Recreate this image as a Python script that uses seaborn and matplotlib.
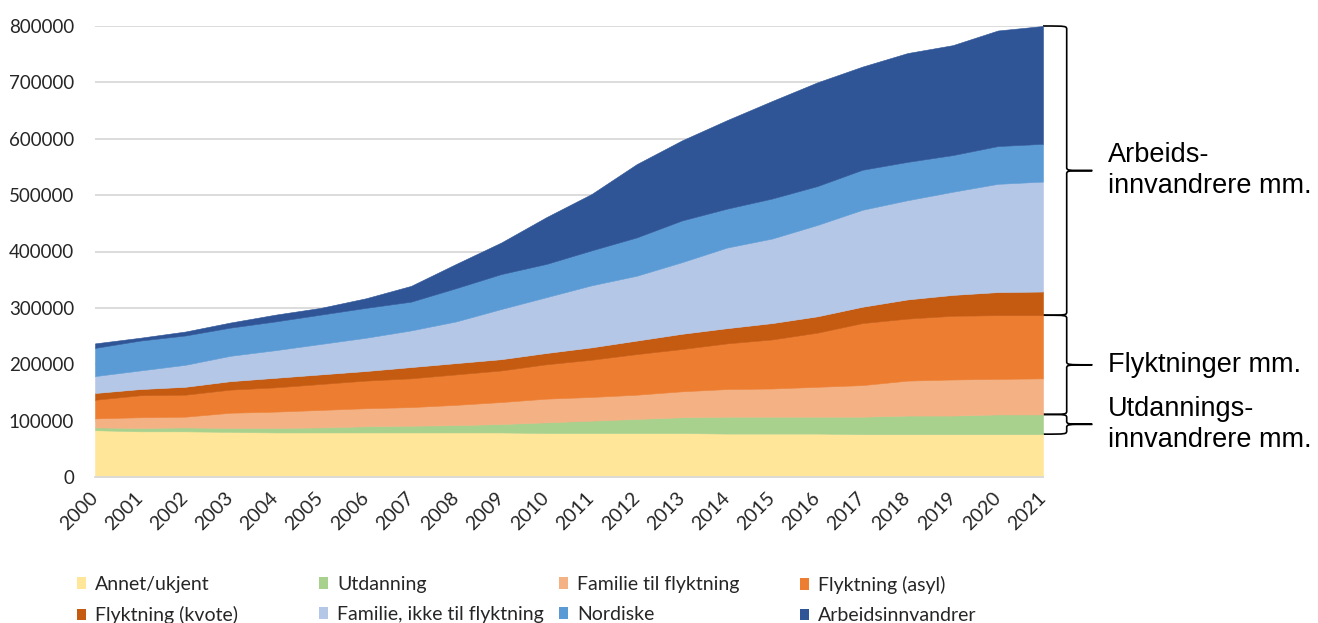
import numpy as np
import pandas as pd
import seaborn as sns
import matplotlib.pyplot as plt
from matplotlib.path import Path
from matplotlib.patches import PathPatch, Patch
from matplotlib.ticker import FuncFormatter
from matplotlib.transforms import blended_transform_factory

# data (persons)
years = list(range(2000, 2022))
annet = [83, 81, 81, 80, 79, 79, 79, 79, 79, 79, 78, 78, 78, 78, 77, 77, 77, 76, 76, 76, 76, 76]
utdanning = [5, 6, 7, 7, 8, 9, 11, 12, 13, 15, 19, 22, 25, 28, 30, 30, 30, 31, 33, 33, 35, 35]
familie_flykt = [16, 19, 19, 27, 29, 31, 32, 33, 36, 39, 42, 42, 43, 46, 49, 50, 53, 56, 62, 64, 63, 64]
flykt_asyl = [33, 39, 39, 41, 43, 46, 49, 51, 54, 56, 61, 66, 72, 75, 81, 87, 96, 110, 110, 113, 113, 112]
flykt_kvote = [12, 11, 14, 15, 17, 17, 17, 20, 20, 20, 20, 22, 24, 27, 27, 29, 29, 29, 34, 37, 41, 42]
familie_ikke = [30, 33, 39, 45, 49, 54, 59, 65, 74, 89, 99, 110, 115, 127, 143, 150, 162, 172, 176, 183, 192, 195]
nordiske = [50, 53, 52, 50, 51, 52, 53, 51, 59, 62, 59, 62, 68, 74, 69, 71, 69, 71, 68, 65, 67, 67]
arbeid = [8, 5, 7, 9, 12, 12, 17, 28, 43, 56, 83, 100, 130, 142, 157, 173, 184, 183, 193, 195, 205, 209]

labels = ['Annet/ukjent', 'Utdanning', 'Familie til flyktning', 'Flyktning (asyl)',
          'Flyktning (kvote)', 'Familie, ikke til flyktning', 'Nordiske', 'Arbeidsinnvandrer']
colors = ['#FFE699', '#A9D18E', '#F4B183', '#ED7D31', '#C55A11', '#B4C7E7', '#5B9BD5', '#2F5597']

brace_groups = [('Arbeids-\ninnvandrere mm.', 4, 8),
                ('Flyktninger mm.', 2, 4),
                ('Utdannings-\ninnvandrere mm.', 1, 2)]

df = pd.DataFrame(dict(zip(labels, [annet, utdanning, familie_flykt, flykt_asyl,
                                    flykt_kvote, familie_ikke, nordiske, arbeid])),
                  index=years) * 1000

sns.set_theme(style='white')
plt.rcParams['font.family'] = ['Lato', 'DejaVu Sans']
palette = sns.color_palette(colors)

fig = plt.figure(figsize=(13.18, 6.23), dpi=100)
ax = fig.add_axes([95 / 1318, 146 / 623, 948 / 1318, 451 / 623])

ax.stackplot(df.index, df.T.values, colors=palette, linewidth=0.4, zorder=2)
for coll, c in zip(ax.collections, colors):
    coll.set_edgecolor(c)

ax.set_xlim(2000, 2021)
ax.set_ylim(0, 800000)
ax.set_yticks(range(0, 800001, 100000))
ax.yaxis.set_major_formatter(FuncFormatter(lambda v, _: f'{int(v)}'))
ax.set_xticks(years)
ax.set_xticklabels([str(y) for y in years], rotation=45, ha='right',
                   rotation_mode='anchor', va='center')
ax.grid(axis='y', color='#D9D9D9', linewidth=1.3, zorder=0)
ax.set_axisbelow(True)
ax.tick_params(axis='y', length=0, pad=15, labelsize=13.5, labelcolor='#262626')
ax.tick_params(axis='x', length=0, pad=13, labelsize=14, labelcolor='#262626')
sns.despine(ax=ax, left=True)
ax.spines['bottom'].set_color('#D9D9D9')
ax.spines['bottom'].set_linewidth(1.3)

# curly braces on the right
cum = df.cumsum(axis=1)
cum.insert(0, 'base', 0)
last = cum.iloc[-1].values
trans = blended_transform_factory(ax.transAxes, ax.transData)
x0, xv, xt = 1.0, 1.025, 1.052


def brace(lo, hi, text):
    mid = (lo + hi) / 2
    r = min(6500, (hi - lo) / 4)
    verts = [(x0, hi), (xv, hi), (xv, hi), (xv, hi - r),
             (xv, mid + r),
             (xv, mid), (xv, mid), (xt, mid),
             (xv, mid), (xv, mid), (xv, mid - r),
             (xv, lo + r),
             (xv, lo), (xv, lo), (x0, lo)]
    codes = [Path.MOVETO, Path.CURVE4, Path.CURVE4, Path.CURVE4,
             Path.LINETO,
             Path.CURVE4, Path.CURVE4, Path.CURVE4,
             Path.CURVE4, Path.CURVE4, Path.CURVE4,
             Path.LINETO,
             Path.CURVE4, Path.CURVE4, Path.CURVE4]
    ax.add_patch(PathPatch(Path(verts, codes), transform=trans, fill=False,
                           edgecolor='black', linewidth=1.2, clip_on=False))
    ax.text(1.0686, mid, text, transform=trans, va='center', ha='left',
            fontsize=19.5, family=['Liberation Sans', 'DejaVu Sans'],
            color='black', linespacing=1.25)


for text, i_lo, i_hi in brace_groups:
    brace(last[i_lo], last[i_hi], text)

# legend: four columns of two rows
handles = [Patch(facecolor=c, edgecolor='none') for c in colors]
col_x = [77, 319, 559, 800]
for k, x in enumerate(col_x):
    fig.legend(handles=[handles[k], handles[k + 4]], labels=[labels[k], labels[k + 4]],
               loc='upper left', bbox_to_anchor=(x / 1318, 1 - 576 / 623),
               frameon=False, borderpad=0, borderaxespad=0, fontsize=14,
               handlelength=0.45, handleheight=0.55, handletextpad=0.47,
               labelspacing=0.68, labelcolor='#262626')

fig.savefig('out.png', dpi=100)
